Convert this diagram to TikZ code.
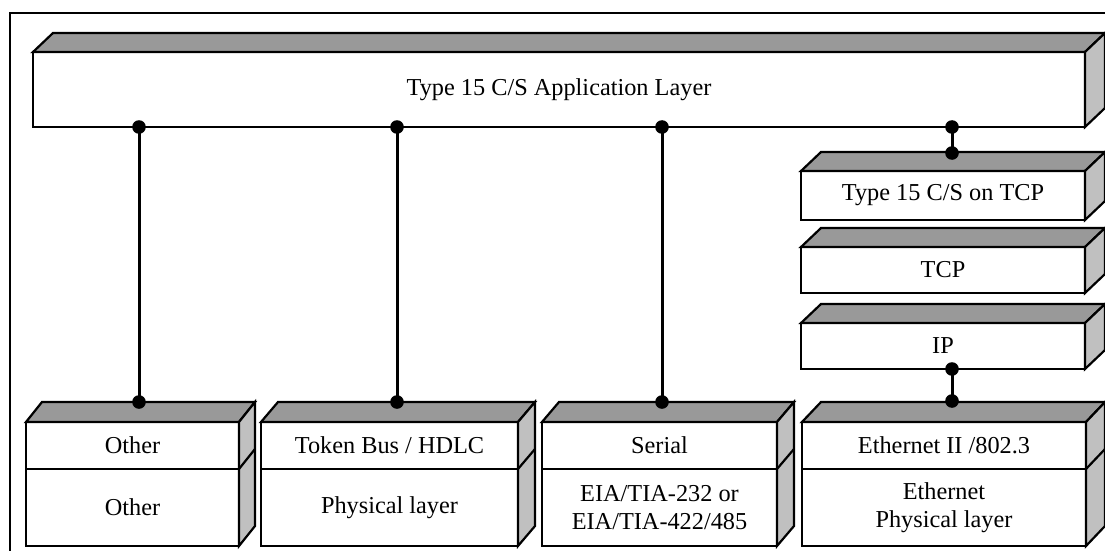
\documentclass[tikz,border=0pt]{standalone}
\usepackage{fontspec}
\setmainfont{Liberation Serif}
\definecolor{topgray}{RGB}{153,153,153}
\definecolor{sidegray}{RGB}{192,192,192}
\tikzset{
  edge/.style={line width=2.2pt, line join=miter},
  face/.style={draw, edge, fill=white, rectangle, inner sep=0pt, outer sep=0pt,
    align=center, font=\fontsize{24.3}{28.5}\selectfont},
  link/.style={line width=3pt},
  dot/.style={fill=black}
}
% #1 name, #2 x0, #3 ytop, #4 x1, #5 ybot, #6 text
\newcommand\frontface[6]{%
  \node[face, minimum width={#4-#2}, minimum height={#5-#3}, anchor=north west] (#1) at (#2,#3) {#6};}
% #1 top node, #2 bottom node, #3 dx, #4 dy
\newcommand\slabfaces[4]{%
  \draw[edge, fill=topgray] (#1.north west) -- ++(#3,-#4) -- ([shift={(#3,-#4)}]#1.north east) -- (#1.north east) -- cycle;
  \draw[edge, fill=sidegray] (#1.north east) -- ++(#3,-#4) -- ([shift={(#3,-#4)}]#2.south east) -- (#2.south east) -- cycle;}
\begin{document}
\begin{tikzpicture}[x=1pt,y=-1pt]
\useasboundingbox (0,0) rectangle (1105,551);
% outer frame
\draw[line width=2pt] (10,560) -- (10,13) -- (1120,13);
% application layer
\frontface{app}{33}{52}{1085}{127}{Type 15 C/S Application Layer}
\slabfaces{app}{app}{20}{19}
% TCP stack
\frontface{t15}{801}{171}{1085}{220}{Type 15 C/S on TCP}
\slabfaces{t15}{t15}{20}{19}
\frontface{tcp}{801}{247}{1085}{293}{TCP}
\slabfaces{tcp}{tcp}{20}{19}
\frontface{ip}{801}{323}{1085}{369}{IP}
\slabfaces{ip}{ip}{20}{19}
% bottom boxes
\frontface{oth1}{26}{422}{239}{469}{Other}
\frontface{oth2}{26}{469}{239}{546}{Other}
\slabfaces{oth1}{oth2}{16}{20}
\draw[edge] (oth1.south east) -- ++(16,-20);
\frontface{tok1}{261}{422}{518}{469}{Token Bus / HDLC}
\frontface{tok2}{261}{469}{518}{546}{Physical layer}
\slabfaces{tok1}{tok2}{17}{20}
\draw[edge] (tok1.south east) -- ++(17,-20);
\frontface{ser1}{542}{422}{777}{469}{Serial}
\frontface{ser2}{542}{469}{777}{546}{EIA/TIA-232 or\\EIA/TIA-422/485}
\slabfaces{ser1}{ser2}{17}{20}
\draw[edge] (ser1.south east) -- ++(17,-20);
\frontface{eth1}{802}{422}{1086}{469}{Ethernet II /802.3}
\frontface{eth2}{802}{469}{1086}{546}{Ethernet\\Physical layer}
\slabfaces{eth1}{eth2}{19}{20}
\draw[edge] (eth1.south east) -- ++(19,-20);
% connector end points
\coordinate (a1) at (139,127);
\coordinate (a2) at (397,127);
\coordinate (a3) at (662,127);
\coordinate (a4) at (952,127);
\coordinate (b1) at (139,402);
\coordinate (b2) at (397,402);
\coordinate (b3) at (662,402);
\coordinate (b4) at (952,153);
\coordinate (c1) at (952,369);
\coordinate (c2) at (952,401);
\draw[link] (a1) -- (b1);
\draw[link] (a2) -- (b2);
\draw[link] (a3) -- (b3);
\draw[link] (a4) -- (b4);
\draw[link] (c1) -- (c2);
\foreach \p in {a1,a2,a3,a4,b1,b2,b3,b4,c1,c2}
  \fill[dot] (\p) circle[radius=6.8pt];
\end{tikzpicture}
\end{document}
